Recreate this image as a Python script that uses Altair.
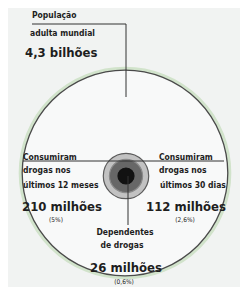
import math
import altair as alt
import pandas as pd

# ---- data -------------------------------------------------------------
groups = ["adultos", "12 meses", "30 dias", "dependentes"]
values_millions = [4300, 210, 112, 26]
value_labels = ["4,3 bilhões", "210 milhões", "112 milhões", "26 milhões"]
pct_labels = ["", "(5%)", "(2,6%)", "(0,6%)"]
group_lines = [
    ["População", "adulta mundial"],
    ["Consumiram", "drogas nos", "últimos 12 meses"],
    ["Consumiram", "drogas nos", "últimos 30 dias"],
    ["Dependentes", "de drogas"],
]

# ---- styles -----------------------------------------------------------
ring_fill = ["#f8f9f9", "#c2c2c2", "#676767", "#121212"]
ring_stroke = ["#4a4a4a", "#5c5c5c", "#8a8a8a", "#121212"]
FONT = "DejaVu Sans Condensed, sans-serif"
INK = "#1e1e1e"
DISC_R = 116
size_scale = alt.Scale(type="linear", domain=[0, values_millions[0]],
                       range=[0, math.pi * DISC_R ** 2])

df = pd.DataFrame({"grupo": groups, "valor": values_millions})
disc_df = df.iloc[[0]]
hub_df = df.iloc[1:]

CX, CY = 117, 165
HX, HY = 118, 168

glow = alt.Chart(disc_df).mark_circle(
    fill="#ffffff", fillOpacity=0, stroke="#c9dfc0", strokeWidth=7, strokeOpacity=0.8
).encode(
    x=alt.value(CX), y=alt.value(CY),
    size=alt.Size("valor:Q", scale=size_scale, legend=None),
)

disc = alt.Chart(disc_df).mark_circle(
    fill=ring_fill[0], fillOpacity=1, stroke=ring_stroke[0], strokeWidth=1.3, opacity=1
).encode(
    x=alt.value(CX), y=alt.value(CY),
    size=alt.Size("valor:Q", scale=size_scale, legend=None),
)

hub = alt.Chart(hub_df).mark_circle(opacity=1, fillOpacity=1, strokeWidth=1.2).encode(
    x=alt.value(HX), y=alt.value(HY),
    size=alt.Size("valor:Q", scale=size_scale, legend=None),
    fill=alt.Fill("grupo:N", scale=alt.Scale(domain=groups[1:], range=ring_fill[1:]), legend=None),
    stroke=alt.Stroke("grupo:N", scale=alt.Scale(domain=groups[1:], range=ring_stroke[1:]), legend=None),
)

rule_df = pd.DataFrame({"k": [0]})


def rule(x1, x2, y1, y2):
    enc = dict(x=alt.value(x1), y=alt.value(y1))
    if x2 != x1:
        enc["x2"] = alt.value(x2)
    if y2 != y1:
        enc["y2"] = alt.value(y2)
    return alt.Chart(rule_df).mark_rule(color="#333333", strokeWidth=1).encode(**enc)


rules = [
    rule(24, 118, 16, 16),
    rule(118, 118, 16, 89),
    rule(15, 216, 153, 153),
    rule(120, 120, 168, 217),
]


def text(t, x, y, size, align="left", weight="bold"):
    return alt.Chart(pd.DataFrame({"t": [t]})).mark_text(
        font=FONT, fontSize=size, fontWeight=weight, color=INK,
        align=align, baseline="alphabetic"
    ).encode(x=alt.value(x), y=alt.value(y), text="t:N")


LBL = 8.5
NUM = 13
PCT = 6.5

texts = [
    # world adult population
    text(group_lines[0][0], 24, 10, LBL),
    text(group_lines[0][1], 22, 28, LBL),
    text(value_labels[0], 17, 49, NUM),
    # last 12 months
    text(group_lines[1][0], 15, 152, LBL),
    text(group_lines[1][1], 15, 165, LBL),
    text(group_lines[1][2], 15, 180, LBL),
    text(value_labels[1], 14, 203, NUM),
    text(pct_labels[1], 48, 214, PCT, align="center", weight="normal"),
    # last 30 days
    text(group_lines[2][0], 151, 152, LBL),
    text(group_lines[2][1], 151, 165, LBL),
    text(group_lines[2][2], 152, 180, LBL),
    text(value_labels[2], 178, 203, NUM, align="center"),
    text(pct_labels[2], 177, 214, PCT, align="center", weight="normal"),
    # dependents
    text(group_lines[3][0], 117, 227, LBL, align="center"),
    text(group_lines[3][1], 114, 240, LBL, align="center"),
    text(value_labels[3], 118, 264, NUM, align="center"),
    text(pct_labels[3], 116, 276, PCT, align="center", weight="normal"),
]

chart = alt.layer(glow, disc, hub, *rules, *texts).properties(
    width=232, height=279,
    autosize=alt.AutoSizeParams(type="none"),
    padding=0,
    background="#f1f3f2",
).configure_view(stroke=None)

chart.save("out.html", embed_options={"renderer": "svg", "actions": False})
